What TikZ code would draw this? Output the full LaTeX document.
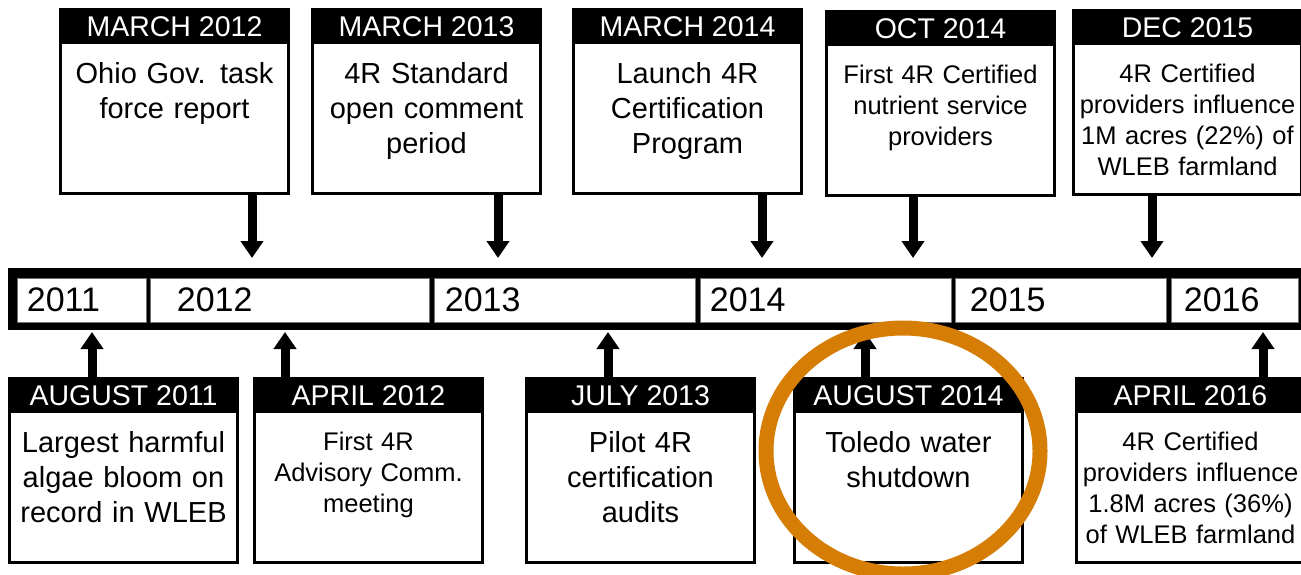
\documentclass[tikz,border=0pt]{standalone}
\usepackage{fontspec}
\setmainfont{Liberation Sans}
\usetikzlibrary{arrows.meta}
\definecolor{ringorange}{RGB}{214,125,5}
\newcommand{\bigtxt}{\fontsize{29}{35}\selectfont}
\newcommand{\smalltxt}{\fontsize{25.5}{31}\selectfont}

\begin{document}
\begin{tikzpicture}
[x=1pt,y=-1pt,
  arrowDecorate/.style={-{Triangle[width=22pt,length=17pt]},line width=9pt},%
  boxDecorate/.style={draw,line width=3pt,anchor=north west,minimum width=228pt,minimum height=184pt,inner sep=0pt},%
  headDecorate/.style={fill=black,text=white,anchor=north,minimum width=228pt,minimum height=36pt,inner sep=0pt,font=\fontsize{28.5}{30}\selectfont},%
  textDecorate/.style={anchor=north,align=center,text width=222pt,inner sep=0pt},%
  cellDecorate/.style={fill=white,draw=black!55,line width=0.6pt,minimum height=44pt,inner sep=0pt},%
  yearDecorate/.style={anchor=west,inner sep=0pt,font=\fontsize{34}{36}\selectfont},%
  ringDecorate/.style={draw=ringorange,line width=15pt}]
\useasboundingbox (0,0) rectangle (1301,574);
%% timeline bar
\node (bar) at (8,268) [fill=black,anchor=north west,minimum width=1310pt,minimum height=62pt,inner sep=0pt] {};
\foreach \yr/\xa/\xb/\dx in {
  2011/17/146/10, 2012/150/429/27, 2013/434/695/11, 2014/700/951/10,
  2015/955/1166/15, 2016/1171/1298/13}
{
  \node (c\yr) at ({(\xa+\xb)/2},300) [cellDecorate,minimum width={(\xb-\xa)*1pt}] {};
  \node (y\yr) at ([xshift=\dx pt]c\yr.west) [yearDecorate] {\yr};
}
%% events above the bar
\foreach \n/\x/\y/\when/\fs/\txt/\ax in {
  1/59/8/MARCH 2012/\bigtxt/{Ohio Gov. task\\force report}/252,
  2/311/8/MARCH 2013/\bigtxt/{4R Standard\\open comment\\period}/498,
  3/572/8/MARCH 2014/\bigtxt/{Launch 4R\\Certification\\Program}/762,
  4/825/10/OCT 2014/\smalltxt/{First 4R Certified\\nutrient service\\providers}/913,
  5/1072/9/DEC 2015/\smalltxt/{4R Certified\\providers influence\\1M acres (22\%) of\\WLEB farmland}/1152}
{
  \node (tb\n) at (\x,\y) [boxDecorate] {};
  \node (th\n) at (tb\n.north) [headDecorate] {\when};
  \node (tt\n) at ([yshift=-18pt]th\n.south) [textDecorate,font=\fs] {\txt};
  \coordinate (ta\n) at (\ax,258);
  \draw[arrowDecorate] (tb\n.south -| ta\n) -- (ta\n);
}
%% events below the bar
\foreach \n/\x/\y/\when/\fs/\txt/\ax in {
  1/8/377/AUGUST 2011/\bigtxt/{Largest harmful\\algae bloom on\\record in WLEB}/92,
  2/253/377/APRIL 2012/\smalltxt/{First 4R\\Advisory Comm.\\meeting}/285,
  3/525/377/JULY 2013/\bigtxt/{Pilot 4R\\certification\\audits}/608,
  4/793/377/AUGUST 2014/\bigtxt/{Toledo water\\shutdown}/865,
  5/1075/377/APRIL 2016/\smalltxt/{4R Certified\\providers influence\\1.8M acres (36\%)\\of WLEB farmland}/1263}
{
  \node (bb\n) at (\x,\y) [boxDecorate] {};
  \node (bh\n) at (bb\n.north) [headDecorate] {\when};
  \node (bt\n) at ([yshift=-18pt]bh\n.south) [textDecorate,font=\fs] {\txt};
  \coordinate (ba\n) at (\ax,332);
  \draw[arrowDecorate] (bb\n.north -| ba\n) -- (ba\n);
}
%% highlight
\draw[ringDecorate] (903,451) ellipse [x radius=137pt,y radius=123pt];
\end{tikzpicture}
\end{document}
